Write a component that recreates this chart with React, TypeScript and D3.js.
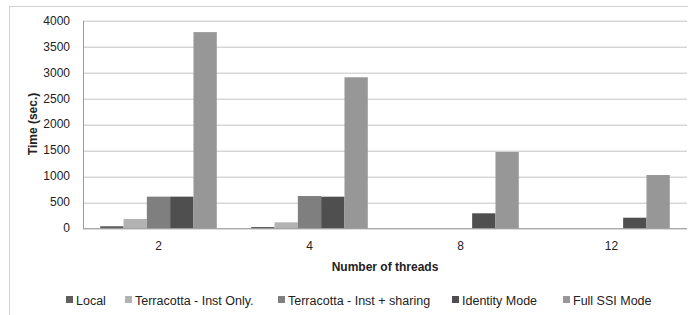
import React from "react";
import * as d3 from "d3";

const categories = ["2", "4", "8", "12"];
const seriesNames = [
  "Local",
  "Terracotta - Inst Only.",
  "Terracotta - Inst + sharing",
  "Identity Mode",
  "Full SSI Mode",
];
const local = [40, 25, 0, 0];
const instOnly = [180, 115, 0, 0];
const instSharing = [610, 622, 0, 0];
const identity = [610, 609, 289, 204];
const fullSSI = [3780, 2910, 1470, 1027];
const yTicks = [0, 500, 1000, 1500, 2000, 2500, 3000, 3500, 4000];

const colors = ["#5f5f5f", "#b2b2b2", "#7f7f7f", "#4f4f4f", "#979797"];
// legend x positions (square start)
const legendX = [66, 125, 278, 452, 563];

const FONT = "'Liberation Sans', Arial, sans-serif";

export default function App() {
  const width = 688;
  const height = 315;
  const margin = { top: 20.7, right: 1, bottom: 86.7, left: 83 };
  const innerW = width - margin.left - margin.right;
  const innerH = height - margin.top - margin.bottom;

  const values = [local, instOnly, instSharing, identity, fullSSI];

  const x0 = d3
    .scaleBand()
    .domain(categories)
    .range([0, innerW])
    .paddingInner(0.228)
    .paddingOuter(0.114);
  const x1 = d3
    .scaleBand()
    .domain(seriesNames)
    .range([0, x0.bandwidth()]);
  const y = d3.scaleLinear().domain([0, 4000]).range([innerH, 0]);

  return (
    <svg
      width={width}
      height={height}
      style={{ position: "absolute", left: 0, top: 0, background: "#fff" }}
      fontFamily={FONT}
    >
      <rect x={9.5} y={6.5} width={700} height={320} fill="none" stroke="#d0d0d0" />
      <g transform={`translate(${margin.left},${margin.top})`}>
        {yTicks.map((t) => (
          <g key={t}>
            {t > 0 && (
              <line x1={0} x2={innerW} y1={Math.round(y(t)) + 0.5} y2={Math.round(y(t)) + 0.5} stroke="#c2c2c2" />
            )}
            <text x={-13} y={y(t) + 4} textAnchor="end" fontSize={12} fill="#222">
              {t}
            </text>
          </g>
        ))}
        <line x1={0.5} x2={0.5} y1={0} y2={innerH} stroke="#9a9a9a" />
        {categories.map((c, ci) => (
          <g key={c} transform={`translate(${x0(c)},0)`}>
            {seriesNames.map((s, si) => {
              const v = values[si][ci];
              if (!v) return null;
              return (
                <rect
                  key={s}
                  x={x1(s)}
                  y={y(v)}
                  width={x1.bandwidth()}
                  height={innerH - y(v)}
                  fill={colors[si]}
                />
              );
            })}
          </g>
        ))}
        <line x1={0} x2={innerW} y1={innerH + 0.5} y2={innerH + 0.5} stroke="#868686" />
        {categories.map((c) => (
          <text
            key={c}
            x={(x0(c) ?? 0) + x0.bandwidth() / 2}
            y={innerH + 22}
            textAnchor="middle"
            fontSize={12}
            fill="#222"
          >
            {c}
          </text>
        ))}
        <text
          x={innerW / 2}
          y={innerH + 43}
          textAnchor="middle"
          fontSize={12}
          fontWeight="bold"
          fill="#222"
        >
          Number of threads
        </text>
      </g>
      <text
        transform={`translate(37,124) rotate(-90)`}
        textAnchor="middle"
        fontSize={12}
        fontWeight="bold"
        fill="#222"
      >
        Time (sec.)
      </text>
      {seriesNames.map((s, i) => (
        <g key={s}>
          <rect x={legendX[i]} y={296} width={7} height={7} fill={colors[i]} />
          <text x={legendX[i] + 10} y={304.5} fontSize={12.5} fill="#222">
            {s}
          </text>
        </g>
      ))}
    </svg>
  );
}
